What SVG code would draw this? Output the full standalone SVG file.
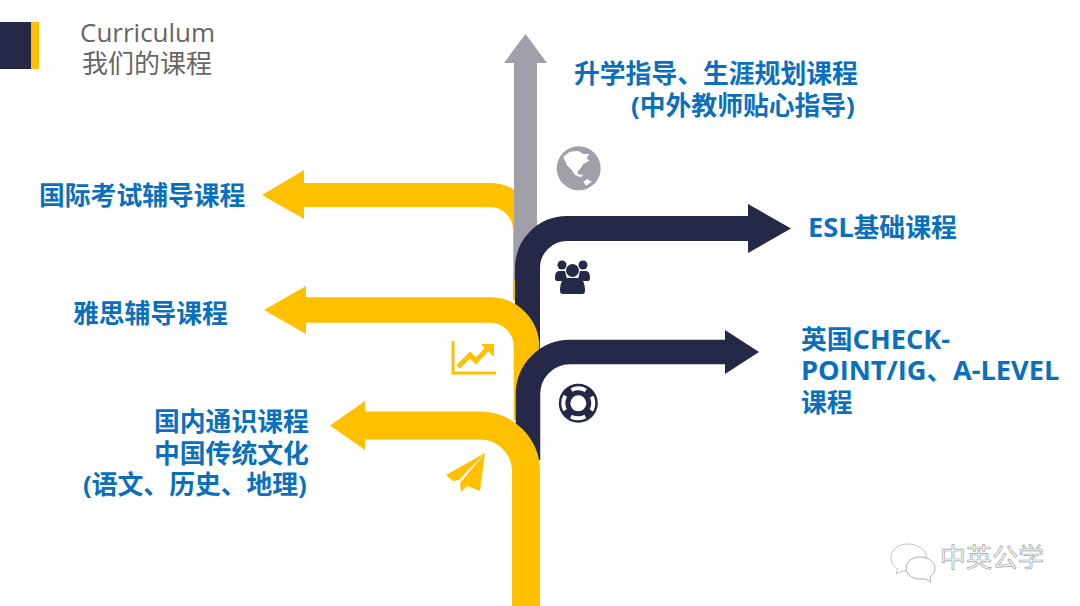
<svg xmlns="http://www.w3.org/2000/svg" width="1080" height="606" viewBox="0 0 1080 606">
<style>
.lbl{font-family:"Open Sans","Noto Sans CJK SC",sans-serif;font-weight:700;font-size:25.8px;fill:#0a70bd}
.lat{font-size:27.2px}
.ttl{font-family:"Open Sans","Noto Sans CJK SC",sans-serif;font-size:26px;fill:#666}
.y{fill:none;stroke:#ffc000}
.d{fill:none;stroke:#252846}
.wm{font-family:"Noto Sans CJK SC",sans-serif;font-size:26px;fill:#fff;stroke:#a0a0a0;stroke-width:.7px}
</style>
<rect width="1080" height="606" fill="#fff"/>
<g id="header">
<rect x="0" y="22" width="31" height="47" fill="#252846"/>
<rect x="31" y="22" width="8" height="47" fill="#ffc000"/>
<text class="ttl" x="80" y="42">Curriculum</text>
<text class="ttl" x="82" y="73">我们的课程</text>
</g>
<g id="connectors">
<g id="arrow-yellow-1">
<path class="y" stroke-width="24" d="M300 195H490A35 35 0 0 1 525 230V300"/>
<polygon fill="#ffc000" points="262,195 304,170 304,219"/>
</g>
<g id="arrow-grey">
<rect x="514" y="60" width="23" height="220" fill="#a0a1a8"/>
<polygon fill="#a0a1a8" points="525.5,34 547,63 504,63"/>
</g>
<g id="arrow-dark-1">
<path class="d" stroke-width="25" d="M750 228.500H567A39.500 39.500 0 0 0 527.500 268V350"/>
<polygon fill="#252846" points="791,228.500 748,204 748,253"/>
</g>
<g id="arrow-yellow-2">
<path class="y" stroke-width="25.500" d="M300 310H490A36.500 36.500 0 0 1 526.500 346.500V420"/>
<polygon fill="#ffc000" points="264,310 306,286 306,334"/>
</g>
<g id="arrow-dark-2">
<path class="d" stroke-width="24.500" d="M728 352H570A42 42 0 0 0 528 394V460"/>
<polygon fill="#252846" points="759,352 725,330 725,374"/>
</g>
<g id="arrow-yellow-3">
<path class="y" stroke-width="28" d="M360 425.500H480A46 46 0 0 1 526 471.500V606"/>
<polygon fill="#ffc000" points="330,425.500 365,401 365,450"/>
</g>
</g>
<g id="node-career">
<circle cx="578.700" cy="168.300" r="22" fill="#a0a1a8"/>
<path fill="#fff" d="M563.300 156.700L570 151.700 578.300 151 583.300 154 589.300 154 586.700 158.300 589.300 160.700 583.300 164 580.700 168.300 577.300 171.700 578.300 174.300 583.300 175 580.700 177.300 575 175 571.700 170 566.700 165zM583.300 181.700L587.300 179.300 591.700 181.700 586 185.700z"/>
<text class="lbl" x="574" y="83">升学指导、生涯规划课程</text>
<text class="lbl" x="631" y="115">(中外教师贴心指导)</text>
</g>
<g id="node-esl" fill="#252846">
<circle cx="562" cy="265" r="4.500"/><circle cx="583" cy="265" r="4.500"/>
<path d="M555 278q0-7 4-7h6l2 8-5 2h-5q-2 0-2-3zM590 278q0-7-4-7h-6l-2 8 5 2h5q2 0 2-3z"/>
<circle cx="572.500" cy="270.500" r="6.500"/>
<path d="M560 291q0-13 8-13h9q8 0 8 13 0 3-3 3h-19q-3 0-3-3z"/>
<text class="lbl" x="808" y="237"><tspan class="lat">ESL</tspan>基础课程</text>
</g>
<g id="node-ielts-prep">
<text class="lbl" x="39" y="205">国际考试辅导课程</text>
</g>
<g id="node-ielts">
<path fill="none" stroke="#ffc000" stroke-width="3" d="M453 341V373H496"/>
<path fill="none" stroke="#ffc000" stroke-width="5" d="M458 367l12-12 6 6 13-14"/>
<polygon fill="#ffc000" points="481,344 494,344 494,357"/>
<text class="lbl" x="73" y="323">雅思辅导课程</text>
</g>
<g id="node-uk">
<circle cx="578.300" cy="403.300" r="19.500" fill="#252846"/>
<circle cx="578.300" cy="403.300" r="15" fill="none" stroke="#fff" stroke-width="4" stroke-dasharray="15 8.560" stroke-dashoffset="7.500"/>
<circle cx="578.300" cy="403.300" r="8" fill="#fff"/>
<text class="lbl" x="801" y="349">英国<tspan class="lat">CHECK-</tspan></text>
<text class="lbl" y="380"><tspan class="lat" x="801">POINT/IG</tspan>、<tspan class="lat" x="953">A-LEVEL</tspan></text>
<text class="lbl" x="801" y="412">课程</text>
</g>
<g id="node-domestic">
<path fill="#ffc000" d="M485 453L446 475 453 481 459 480zM485 453L460 483 461 492 467 486 480 491z"/>
<text class="lbl" x="154" y="431">国内通识课程</text>
<text class="lbl" x="154" y="463">中国传统文化</text>
<text class="lbl" x="83" y="494">(语文、历史、地理)</text>
</g>
<g id="watermark">
<path fill="#fff" stroke="#c4c4c4" d="M908 544c-10 0-17 6-17 14 0 5 3 9 7 11l-2 5 7-3 8 0a16 14 0 0 1 16-14c-2-8-10-13-19-13z"/>
<path fill="#fff" stroke="#b0b0b0" d="M920 557c-8 0-14 5-14 11s6 11 14 11h5l6 3-1-5c3-2 5-5 5-9 0-6-7-11-15-11z"/>
<text class="wm" x="940" y="567">中英公学</text>
</g>
</svg>
